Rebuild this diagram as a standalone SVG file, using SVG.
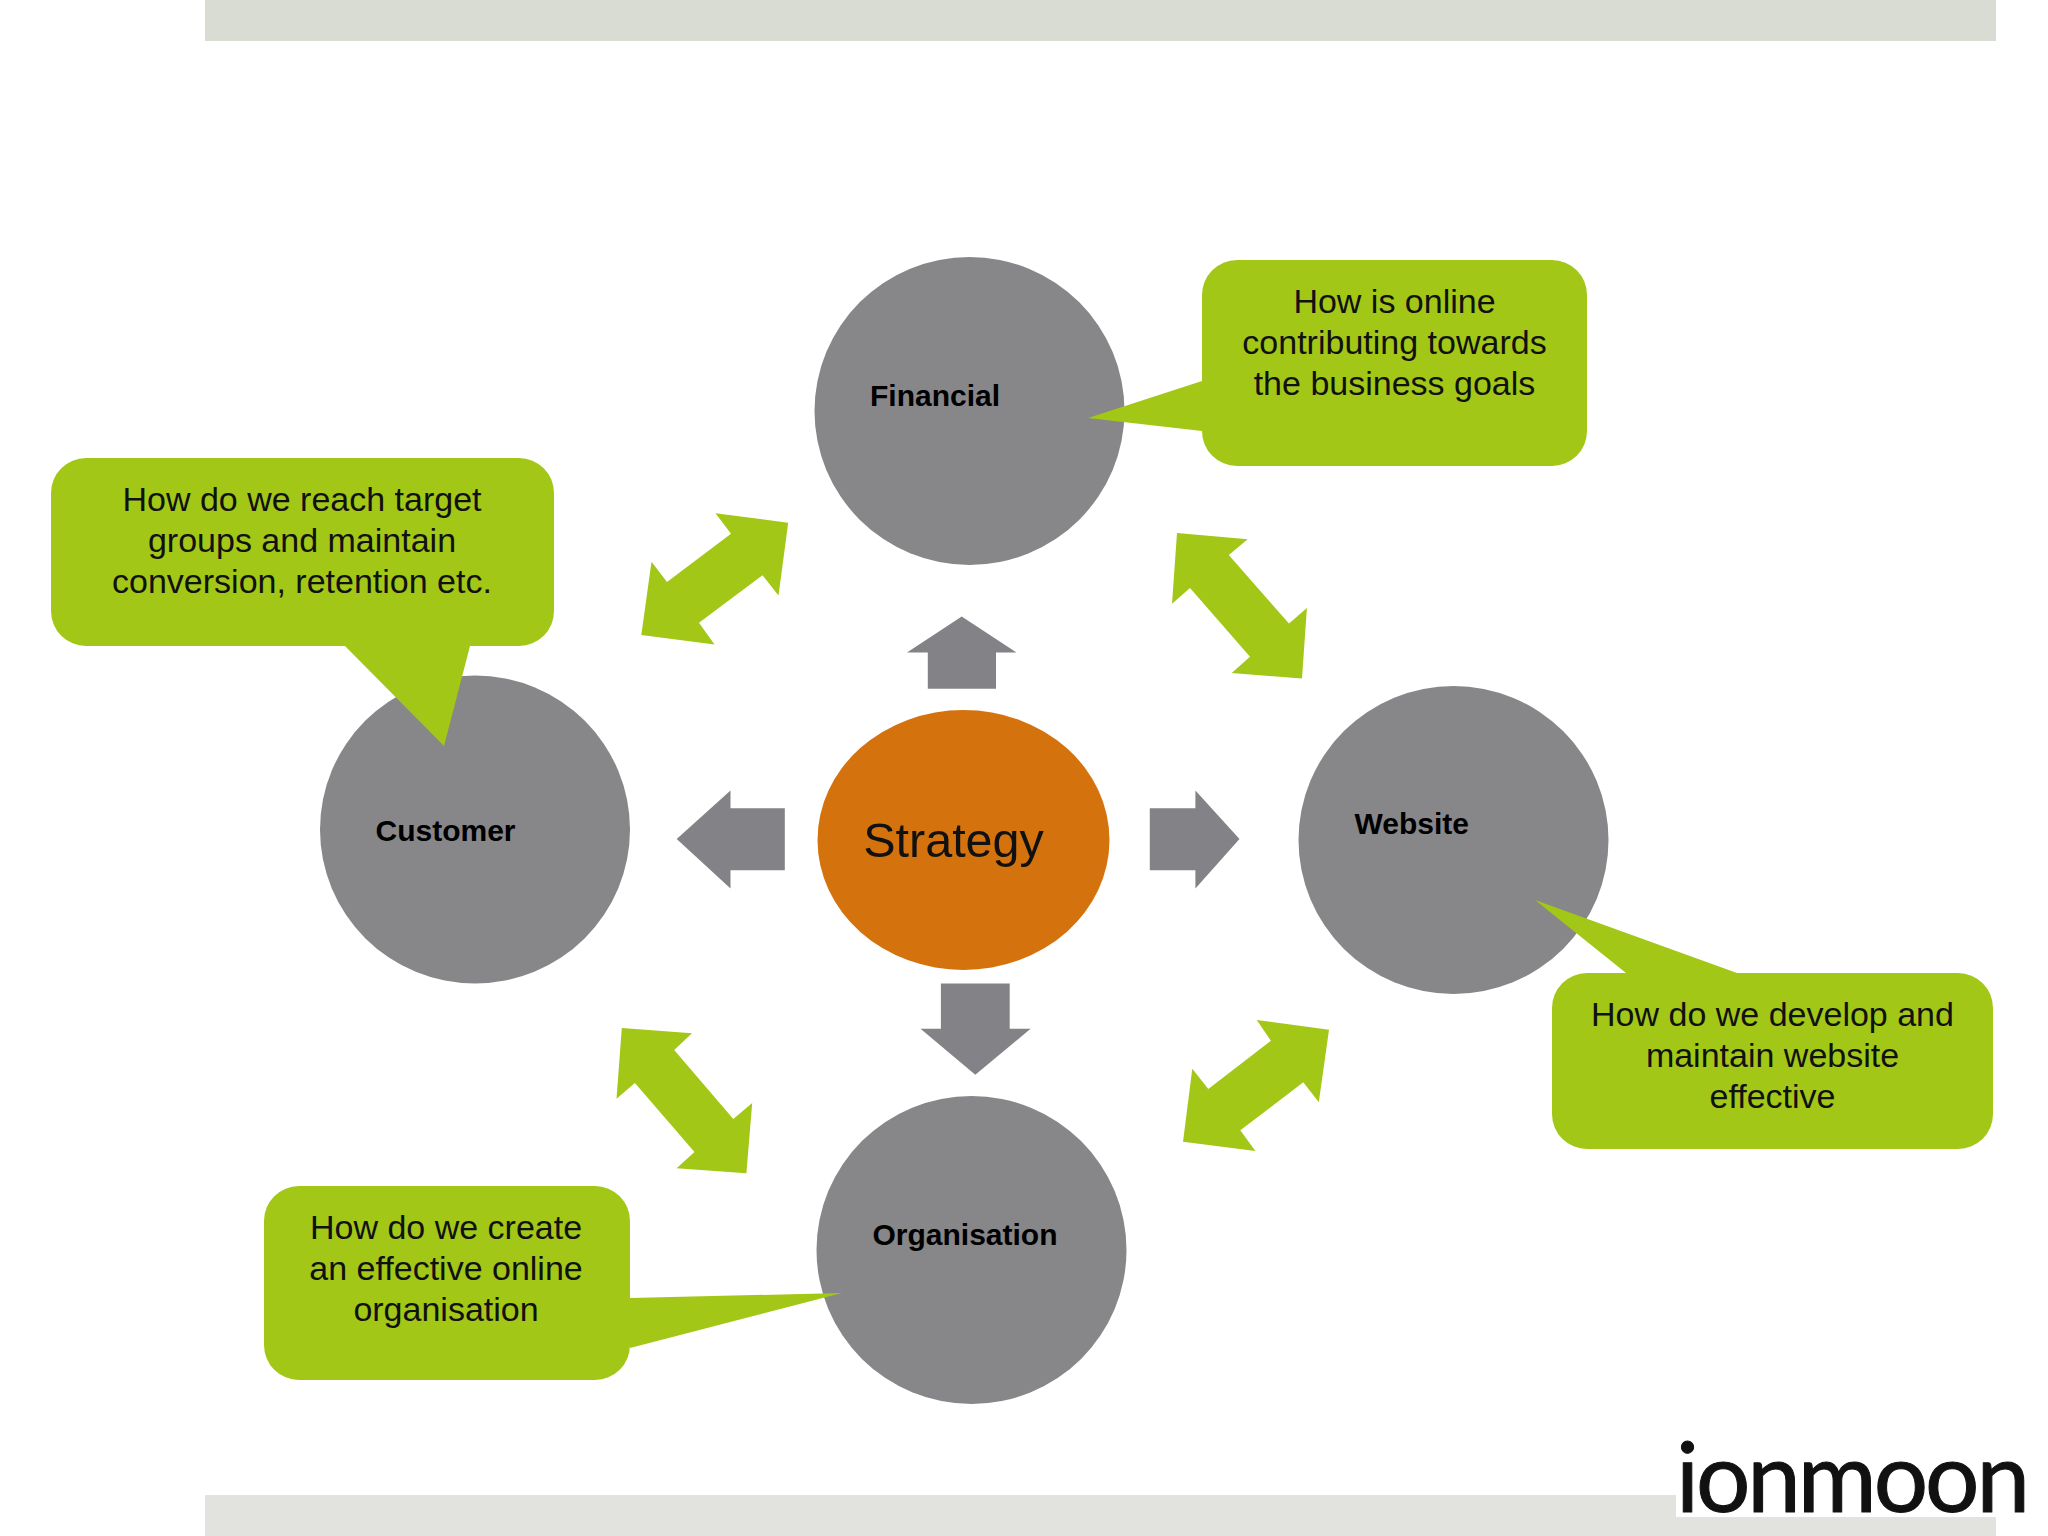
<svg xmlns="http://www.w3.org/2000/svg" width="2048" height="1536" viewBox="0 0 2048 1536">
<style>
.circle{fill:#878689}
.callout{fill:#a2c717}
.ga{fill:#a2c717}
.gr{fill:#838286}
.t{font-family:"Liberation Sans",Arial,sans-serif;font-size:34px;fill:#111;text-anchor:middle}
.n{font-family:"Liberation Sans",Arial,sans-serif;font-size:30px;font-weight:bold;fill:#000}
</style>
<rect width="2048" height="1536" fill="#fff"/>
<g id="bands">
<rect x="205" y="0" width="1791" height="41" fill="#d9dcd3"/>
<rect x="205" y="1495" width="1791" height="41" fill="#e2e3de"/>
</g>
<g id="node-financial"><ellipse class="circle" cx="969.500" cy="411" rx="155" ry="154"/><text class="n" x="870" y="406">Financial</text></g>
<g id="node-customer"><ellipse class="circle" cx="475" cy="829.500" rx="155" ry="154"/><text class="n" x="375.500" y="841">Customer</text></g>
<g id="node-website"><ellipse class="circle" cx="1453.500" cy="840" rx="155" ry="154"/><text class="n" x="1354.500" y="834">Website</text></g>
<g id="node-organisation"><ellipse class="circle" cx="971.500" cy="1250" rx="155" ry="154"/><text class="n" x="872.500" y="1245">Organisation</text></g>
<g id="node-strategy"><ellipse cx="963.500" cy="840" rx="146" ry="130" fill="#d4730e"/><text x="953.500" y="857" font-family="'Liberation Sans',Arial,sans-serif" font-size="48.500" fill="#111" text-anchor="middle">Strategy</text></g>
<g id="connectors">
<polygon class="gr" points="961.700,616.400 1016.500,652.400 996,652.400 996,688.800 927.800,688.800 927.800,652.400 907,652.400"/>
<polygon class="gr" points="676.700,839 730.500,790.400 730.500,808.200 784.800,808.200 784.800,870.300 730.500,870.300 730.500,888.500"/>
<polygon class="gr" points="1149.800,808.200 1195.400,808.200 1195.400,790.400 1239.500,839 1195.400,888.500 1195.400,870.300 1149.800,870.300"/>
<polygon class="gr" points="940.900,983.400 1009.700,983.400 1009.700,1028.800 1030.600,1028.800 975.300,1074.700 920.500,1028.800 940.900,1028.800"/>
<polygon id="a-tl" class="ga" points="715.500,513.200 788.200,522.700 778.500,595.500 762.500,575.300 699,622.700 714.500,644.500 641.300,635 651.500,561.800 667,582 731,533.800"/>
<polygon id="a-tr" class="ga" points="1177,533 1247.700,539.300 1228.800,555 1289,623.500 1306.900,608 1302,678.500 1231.700,673 1250,656.700 1190,588 1172,603.800"/>
<polygon id="a-bl" class="ga" points="621.800,1028 692,1033.300 674.200,1050 733.300,1119 752.200,1103 746.400,1173.300 676.600,1168.300 694.500,1152 634.900,1083 616.500,1098.700"/>
<polygon id="a-br" class="ga" points="1256.800,1020 1329,1029.700 1318.800,1102.300 1303.300,1082.300 1240.300,1130.300 1255.400,1151 1183,1141.700 1192.300,1068.700 1208.300,1089 1270.900,1040.700"/>
</g>
<g id="callout-financial">
<path class="callout" d="M1237 260H1552a35 35 0 0 1 35 35V431a35 35 0 0 1-35 35H1237a35 35 0 0 1-35-35V431L1088 418L1202 381V295a35 35 0 0 1 35-35Z"/>
<text class="t" x="1394.500" y="312.500">How is online</text><text class="t" x="1394.500" y="353.500">contributing towards</text><text class="t" x="1394.500" y="394.500">the business goals</text>
</g>
<g id="callout-customer">
<path class="callout" d="M86 458H519a35 35 0 0 1 35 35V611a35 35 0 0 1-35 35H470L444 746L345 646H86a35 35 0 0 1-35-35V493a35 35 0 0 1 35-35Z"/>
<text class="t" x="302" y="510.500">How do we reach target</text><text class="t" x="302" y="551.500">groups and maintain</text><text class="t" x="302" y="592.500">conversion, retention etc.</text>
</g>
<g id="callout-website">
<path class="callout" d="M1587 973H1626L1535 900L1737 973H1958a35 35 0 0 1 35 35V1114a35 35 0 0 1-35 35H1587a35 35 0 0 1-35-35V1008a35 35 0 0 1 35-35Z"/>
<text class="t" x="1772.500" y="1025.500">How do we develop and</text><text class="t" x="1772.500" y="1066.500">maintain website</text><text class="t" x="1772.500" y="1107.500">effective</text>
</g>
<g id="callout-organisation">
<path class="callout" d="M299 1186H595a35 35 0 0 1 35 35V1298L842 1293L630 1348V1345a35 35 0 0 1-35 35H299a35 35 0 0 1-35-35V1221a35 35 0 0 1 35-35Z"/>
<text class="t" x="446" y="1238.500">How do we create</text><text class="t" x="446" y="1279.500">an effective online</text><text class="t" x="446" y="1320.500">organisation</text>
</g>
<g id="logo">
<rect x="1676" y="1440" width="372" height="77" fill="#fff"/>
<text x="1676" y="1512" font-family="Lato,sans-serif" font-size="96" fill="#111" stroke="#111" stroke-width="1" stroke-linejoin="round" textLength="354" lengthAdjust="spacing">ionmoon</text>
</g>
</svg>
